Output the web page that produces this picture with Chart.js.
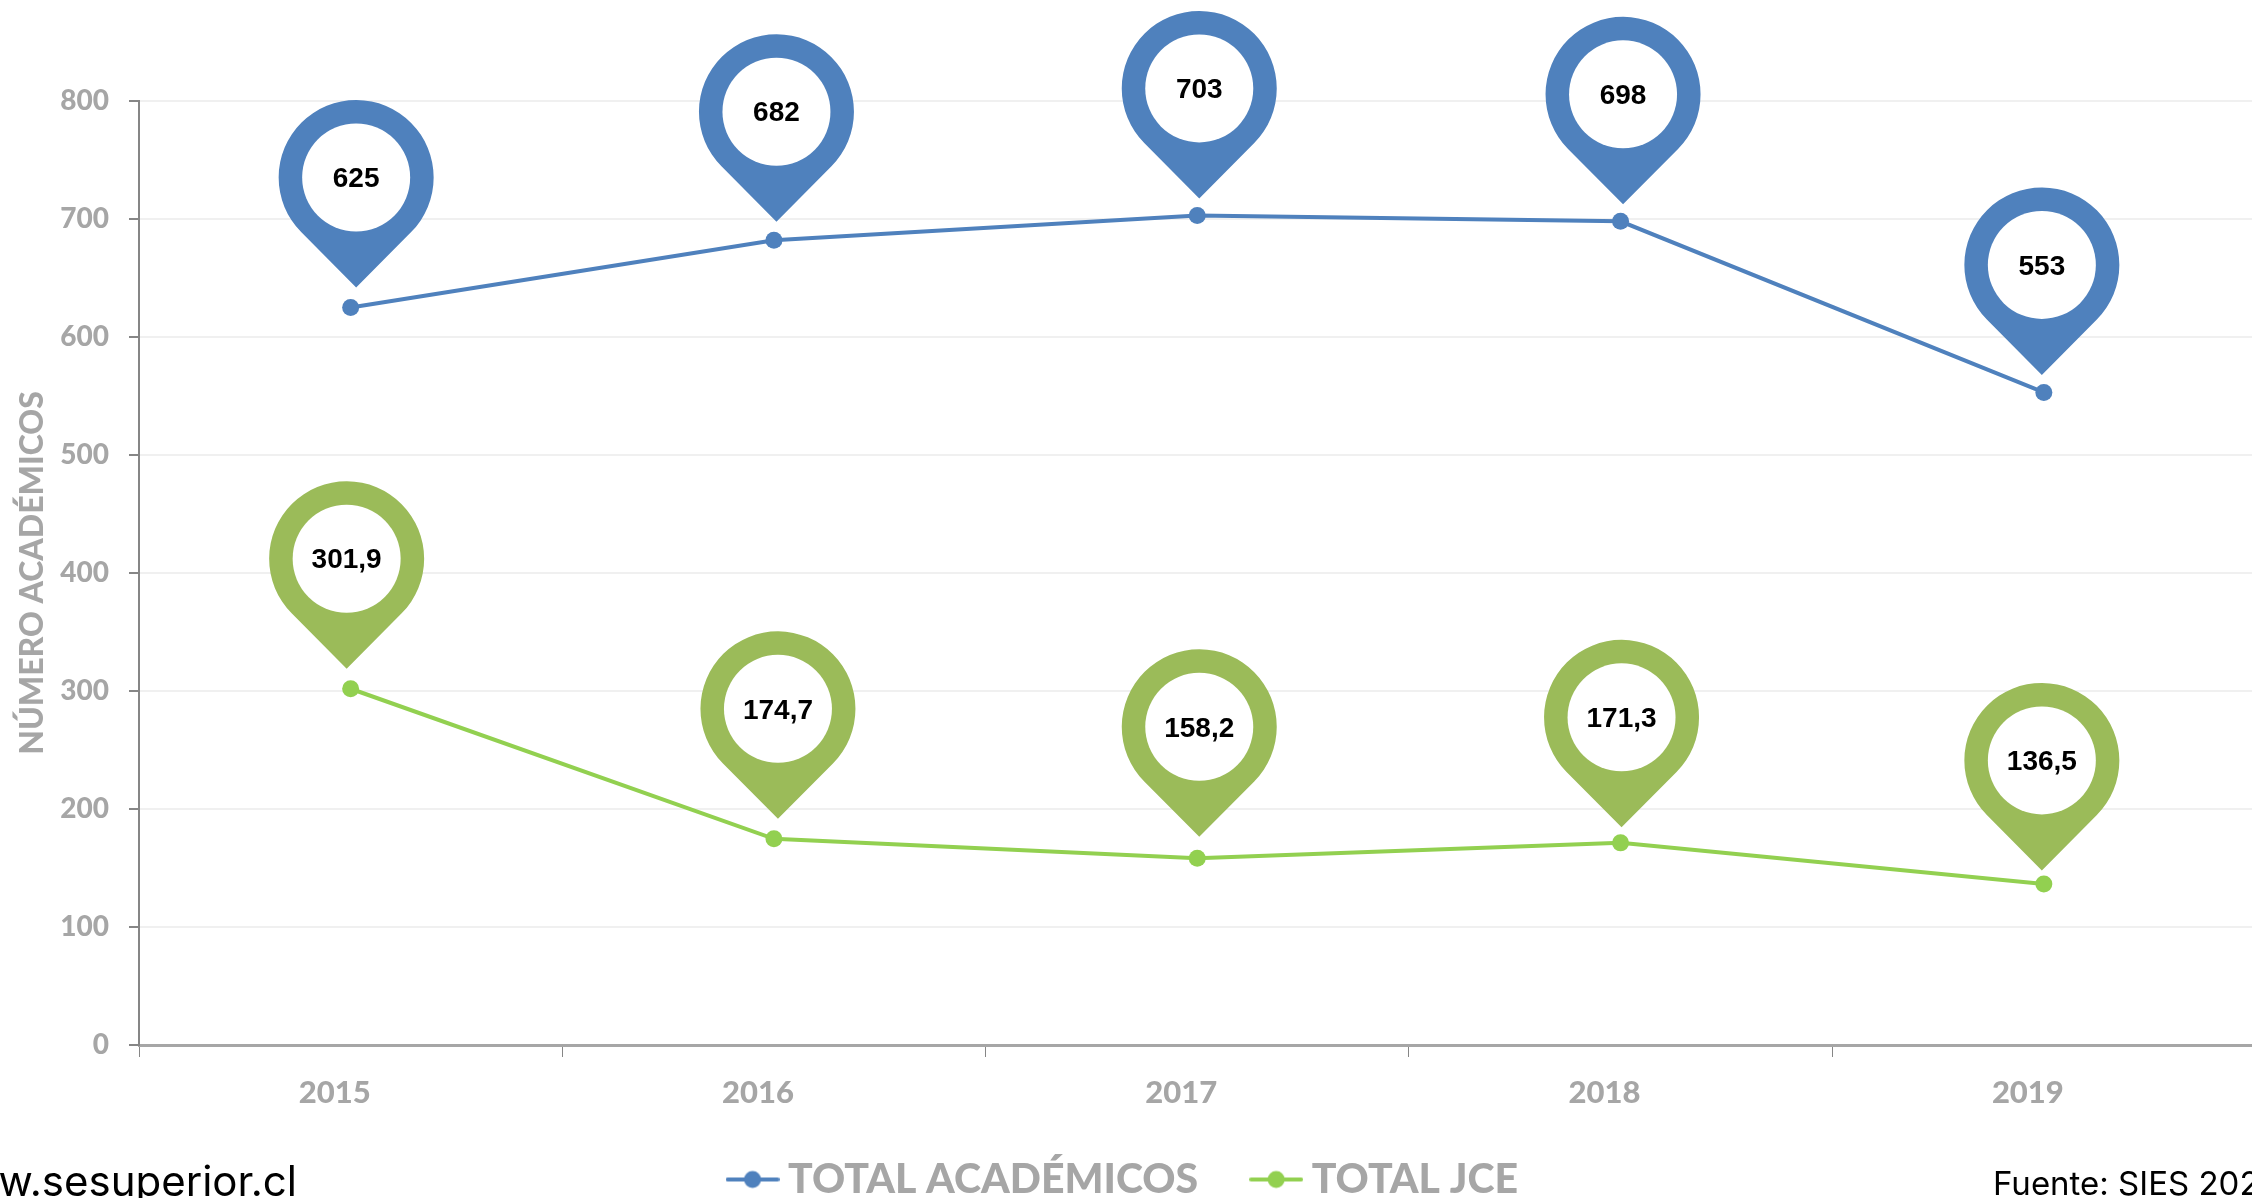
<!DOCTYPE html>
<html>
<head>
<meta charset="utf-8">
<title>Académicos y JCE</title>
<script src="https://cdn.jsdelivr.net/npm/chart.js@4"></script>
<style>
    html, body { margin: 0; padding: 0; background: #fff; overflow: hidden; }
    #wrap { width: 2252px; height: 1198px; overflow: hidden; }
    canvas { display: block; }
</style>
</head>
<body>
<div id="wrap"><canvas id="myChart" width="2270" height="1198"></canvas></div>
<script>
const years = ['2015', '2016', '2017', '2018', '2019'];
const academicos = [625, 682, 703, 698, 553];
const jce = [301.9, 174.7, 158.2, 171.3, 136.5];
const yTicks = [0, 100, 200, 300, 400, 500, 600, 700, 800];

// where each pin's circle sits relative to its point
const pinDxAcademicos = [5.5, 2.5, 2, 2.5, -2];
const pinDyAcademicos = [-130, -128.5, -127, -127, -127.5];
const pinDxJce = [-4, 4, 2, 1, -2];
const pinDyJce = [-130, -130, -131.5, -125.5, -123.5];

const BLUE = '#4f81bd';
const GREEN_LINE = '#92d050';
const GREEN_PIN = '#9bbb59';
const GREY = '#a6a6a6';
const AXIS = '#868686';

function legendSample(color) {
    const c = document.createElement('canvas');
    c.width = 54;
    c.height = 20;
    const g = c.getContext('2d');
    g.strokeStyle = color;
    g.lineWidth = 4;
    g.lineCap = 'round';
    g.beginPath();
    g.moveTo(2, 10);
    g.lineTo(52, 10);
    g.stroke();
    g.fillStyle = color;
    g.beginPath();
    g.arc(27, 10, 8.5, 0, Math.PI * 2);
    g.fill();
    return c;
}

function drawPin(g, x, y, color, text) {
    const r = 77.5, inner = 54, tip = 110;
    const t = Math.acos(r / tip);
    g.fillStyle = color;
    g.beginPath();
    g.arc(x, y, r, Math.PI / 2 + t, Math.PI * 2 + Math.PI / 2 - t);
    g.lineTo(x, y + tip);
    g.closePath();
    g.fill();
    g.fillStyle = '#fff';
    g.beginPath();
    g.arc(x, y, inner, 0, Math.PI * 2);
    g.fill();
    g.fillStyle = '#000';
    g.font = 'bold 28px "Liberation Sans"';
    g.textAlign = 'center';
    g.textBaseline = 'middle';
    g.fillText(text, x, y + 2);
}

const pinsPlugin = {
    id: 'pins',
    afterDatasetsDraw(chart) {
        const g = chart.ctx;
        const sets = [
            [academicos, pinDxAcademicos, pinDyAcademicos, BLUE],
            [jce, pinDxJce, pinDyJce, GREEN_PIN],
        ];
        g.save();
        sets.forEach(([values, dx, dy, color], i) => {
            chart.getDatasetMeta(i).data.forEach((pt, j) => {
                drawPin(g, pt.x + dx[j], pt.y + dy[j], color, String(values[j]).replace('.', ','));
            });
        });
        g.restore();
    }
};

const footerPlugin = {
    id: 'footer',
    // x tick labels get clipped to the scale box, so let it reach further down
    afterLayout(chart) {
        chart.scales.x.bottom += 40;
    },
    afterDraw(chart) {
        const g = chart.ctx;
        g.save();
        g.fillStyle = '#000';
        g.textBaseline = 'alphabetic';
        g.font = '42px Inter';
        g.textAlign = 'right';
        g.fillText('www.sesuperior.cl', 297, 1196);
        g.font = '33px Inter';
        g.textAlign = 'left';
        g.fillText('Fuente: SIES 2020', 1993, 1195);
        g.restore();
    }
};

new Chart(document.getElementById('myChart'), {
    type: 'line',
    data: {
        labels: years,
        datasets: [
            {
                label: 'TOTAL ACADÉMICOS',
                data: academicos,
                borderColor: BLUE,
                backgroundColor: BLUE,
                borderWidth: 4,
                pointRadius: 8.5,
                pointBackgroundColor: BLUE,
                pointBorderWidth: 0,
                tension: 0,
                clip: false
            },
            {
                label: 'TOTAL JCE',
                data: jce,
                borderColor: GREEN_LINE,
                backgroundColor: GREEN_LINE,
                borderWidth: 4,
                pointRadius: 8.5,
                pointBackgroundColor: GREEN_LINE,
                pointBorderWidth: 0,
                tension: 0,
                clip: false
            }
        ]
    },
    options: {
        responsive: false,
        animation: false,
        layout: { padding: { top: 101, right: 14.5, left: 0, bottom: -12 } },
        scales: {
            x: {
                offset: true,
                afterFit: scale => { scale.height = 51; },
                grid: {
                    offset: true,
                    drawOnChartArea: false,
                    tickLength: 12,
                    tickColor: AXIS,
                    tickWidth: 1
                },
                border: { color: GREY, width: 3 },
                ticks: {
                    color: GREY,
                    padding: 17,
                    labelOffset: -16,
                    maxRotation: 0,
                    font: { family: 'Lato', weight: '900', size: 31 }
                }
            },
            y: {
                min: 0,
                max: 800,
                afterFit: scale => { scale.width = 139; },
                afterBuildTicks: scale => { scale.ticks = yTicks.map(v => ({ value: v })); },
                grid: {
                    color: '#f0f0f0',
                    lineWidth: 2,
                    tickColor: AXIS,
                    tickLength: 10,
                    tickWidth: 2
                },
                border: { color: AXIS, width: 2 },
                ticks: {
                    color: GREY,
                    padding: 20,
                    font: { family: 'Lato', weight: '900', size: 28 }
                },
                title: {
                    display: true,
                    text: 'NÚMERO ACADÉMICOS',
                    color: GREY,
                    padding: { top: 13, bottom: 0 },
                    font: { family: 'Lato', weight: '900', size: 32 }
                }
            }
        },
        plugins: {
            tooltip: { enabled: false },
            legend: {
                position: 'bottom',
                labels: {
                    usePointStyle: true,
                    pointStyleWidth: 30,
                    padding: 63,
                    color: GREY,
                    font: { family: 'Lato', weight: '900', size: 41 },
                    generateLabels: chart => chart.data.datasets.map((d, i) => ({
                        text: d.label,
                        fontColor: GREY,
                        pointStyle: legendSample(d.borderColor),
                        lineWidth: 0,
                        hidden: false,
                        datasetIndex: i
                    }))
                }
            }
        }
    },
    plugins: [pinsPlugin, footerPlugin]
});
</script>
</body>
</html>
